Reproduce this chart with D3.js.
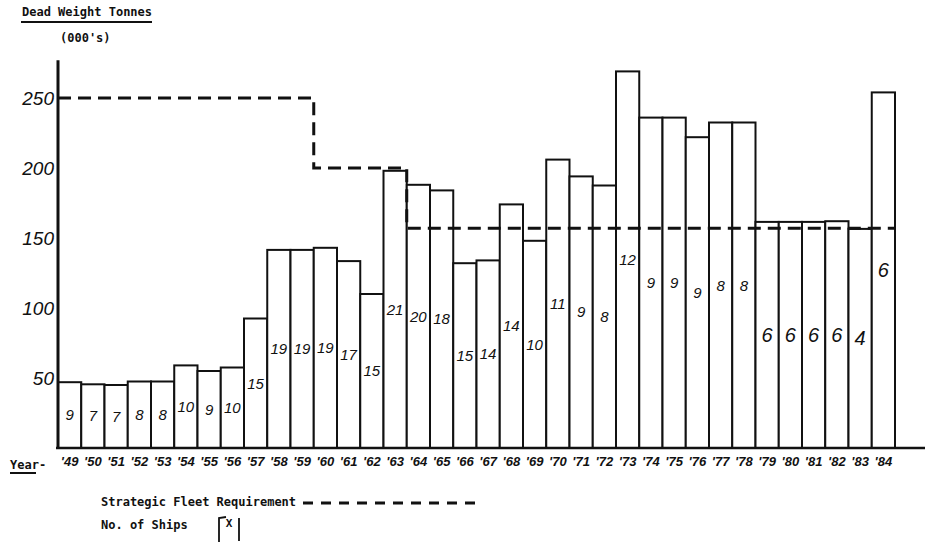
<!DOCTYPE html>
<html>
<head>
<meta charset="utf-8">
<script src="https://cdn.jsdelivr.net/npm/d3@7"></script>
<style>
  html, body { margin: 0; padding: 0; background: #fff; }
  svg { display: block; }
</style>
</head>
<body>
<svg id="chart" width="927" height="550"></svg>
<script>
// ---- Data ----
const years = ["'49","'50","'51","'52","'53","'54","'55","'56","'57","'58","'59","'60",
               "'61","'62","'63","'64","'65","'66","'67","'68","'69","'70","'71","'72",
               "'73","'74","'75","'76","'77","'78","'79","'80","'81","'82","'83","'84"];
// Dead weight tonnes (000's)
const tonnage = [47, 45.5, 45, 47.5, 47.5, 59, 55, 57.5, 92.5, 141.5, 141.5, 143,
                 133.5, 110, 198, 188, 184, 132, 134, 174, 148, 206, 194, 187.5,
                 269, 236, 236, 222, 232.5, 232.5, 161.5, 161.5, 161.5, 162, 156.5, 254];
// Number of ships
const ships = [9, 7, 7, 8, 8, 10, 9, 10, 15, 19, 19, 19,
               17, 15, 21, 20, 18, 15, 14, 14, 10, 11, 9, 8,
               12, 9, 9, 9, 8, 8, 6, 6, 6, 6, 4, 6];
// Strategic Fleet Requirement (000's DWT) per year
const requirement = [250, 250, 250, 250, 250, 250, 250, 250, 250, 250, 250, 200,
                     200, 200, 200, 157, 157, 157, 157, 157, 157, 157, 157, 157,
                     157, 157, 157, 157, 157, 157, 157, 157, 157, 157, 157, 157];
const yTicks = [50, 100, 150, 200, 250];

// ---- Drawing ----
const svg = d3.select("#chart");
const hand = "'Liberation Sans', Arial, sans-serif";
const type = "'DejaVu Sans Mono', 'Liberation Mono', monospace";

const x = d3.scaleBand().domain(years).range([58, 895]).padding(0);
const y = d3.scaleLinear().domain([0, 250]).range([448, 98]);

// Bars
svg.append("g").selectAll("rect")
  .data(years)
  .join("rect")
  .attr("x", d => x(d))
  .attr("y", (d, i) => y(tonnage[i]))
  .attr("width", x.bandwidth())
  .attr("height", (d, i) => y(0) - y(tonnage[i]))
  .attr("fill", "#fff")
  .attr("stroke", "#111")
  .attr("stroke-width", 2);

// Ship counts inside bars
svg.append("g").selectAll("text")
  .data(years)
  .join("text")
  .attr("x", d => x(d) + x.bandwidth() / 2)
  .attr("y", (d, i) => (y(tonnage[i]) + y(0)) / 2)
  .attr("dy", "0.35em")
  .attr("text-anchor", "middle")
  .attr("font-family", hand)
  .attr("font-style", "italic")
  .attr("font-size", (d, i) => i >= 30 ? 20 : 15)
  .attr("fill", "#111")
  .text((d, i) => ships[i]);

// Strategic fleet requirement step line
const reqPts = [];
years.forEach((d, i) => {
  reqPts.push([x(d), y(requirement[i])]);
  reqPts.push([x(d) + x.bandwidth(), y(requirement[i])]);
});
svg.append("path")
  .attr("d", d3.line()(reqPts))
  .attr("fill", "none")
  .attr("stroke", "#111")
  .attr("stroke-width", 3)
  .attr("stroke-dasharray", "13,7");

// Y axis
const yAxis = svg.append("g")
  .attr("transform", "translate(57,0)")
  .call(d3.axisLeft(y).tickValues(yTicks).tickSize(0).tickPadding(3));
yAxis.select(".domain").remove();
yAxis.selectAll("text")
  .attr("font-family", hand)
  .attr("font-style", "italic")
  .attr("font-size", 19)
  .attr("fill", "#111");
svg.append("line")
  .attr("x1", 58).attr("x2", 58)
  .attr("y1", y(0)).attr("y2", y(277))
  .attr("stroke", "#111").attr("stroke-width", 3);

// X axis
const xAxis = svg.append("g")
  .attr("transform", `translate(0,${y(0)})`)
  .call(d3.axisBottom(x).tickSize(0).tickPadding(9));
xAxis.select(".domain").remove();
xAxis.selectAll("text")
  .attr("font-family", hand)
  .attr("font-style", "italic")
  .attr("font-weight", "bold")
  .attr("font-size", 13)
  .attr("fill", "#111");
svg.append("line")
  .attr("x1", 56).attr("x2", 925)
  .attr("y1", y(0)).attr("y2", y(0))
  .attr("stroke", "#111").attr("stroke-width", 2.5);

// Titles
svg.append("text")
  .attr("x", 22).attr("y", 16)
  .attr("font-family", type).attr("font-weight", "bold").attr("font-size", 12)
  .attr("fill", "#111")
  .text("Dead Weight Tonnes");
svg.append("line")
  .attr("x1", 21).attr("x2", 152).attr("y1", 22).attr("y2", 22)
  .attr("stroke", "#111").attr("stroke-width", 2);
svg.append("text")
  .attr("x", 60).attr("y", 42)
  .attr("font-family", type).attr("font-weight", "bold").attr("font-size", 12)
  .attr("fill", "#111")
  .text("(000's)");

svg.append("text")
  .attr("x", 10).attr("y", 469)
  .attr("font-family", type).attr("font-weight", "bold").attr("font-size", 12)
  .attr("fill", "#111")
  .text("Year-");
svg.append("line")
  .attr("x1", 10).attr("x2", 36).attr("y1", 473).attr("y2", 473)
  .attr("stroke", "#111").attr("stroke-width", 2);

// Legend
svg.append("text")
  .attr("x", 101).attr("y", 506)
  .attr("font-family", type).attr("font-weight", "bold").attr("font-size", 12)
  .attr("fill", "#111")
  .text("Strategic Fleet Requirement");
svg.append("line")
  .attr("x1", 303).attr("x2", 480).attr("y1", 503).attr("y2", 503)
  .attr("stroke", "#111").attr("stroke-width", 3)
  .attr("stroke-dasharray", "10,8");
svg.append("text")
  .attr("x", 101).attr("y", 529)
  .attr("font-family", type).attr("font-weight", "bold").attr("font-size", 12)
  .attr("fill", "#111")
  .text("No. of Ships");
svg.append("path")
  .attr("d", "M219,542 L219,518 L226,517 M239,518 L239,541")
  .attr("fill", "none").attr("stroke", "#111").attr("stroke-width", 1.8);
svg.append("text")
  .attr("x", 229).attr("y", 527)
  .attr("text-anchor", "middle")
  .attr("font-family", type).attr("font-weight", "bold").attr("font-size", 11)
  .attr("fill", "#111")
  .text("X");
</script>
</body>
</html>
